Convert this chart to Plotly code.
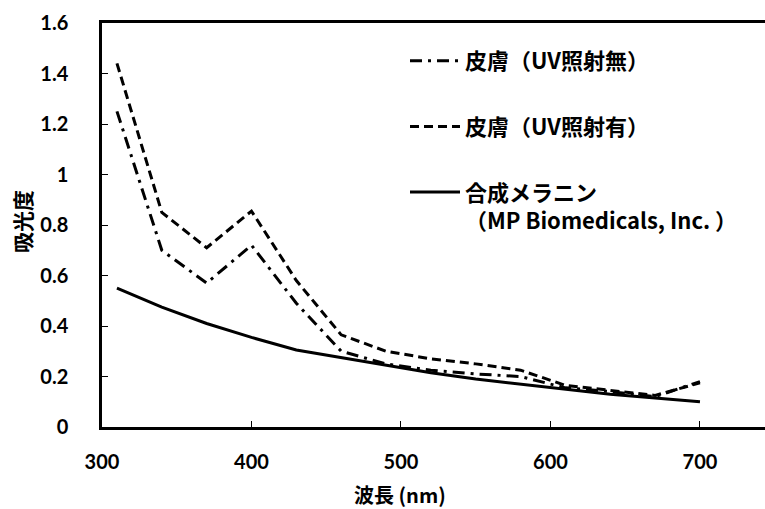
import plotly.graph_objects as go

wavelength = [310, 340, 370, 400, 430, 460, 490, 520, 550, 580, 610, 640, 670, 700]
skin_no_uv = [1.25, 0.70, 0.57, 0.72, 0.49, 0.30, 0.25, 0.225, 0.21, 0.20, 0.155, 0.14, 0.12, 0.18]
skin_uv = [1.44, 0.85, 0.71, 0.855, 0.58, 0.365, 0.30, 0.27, 0.25, 0.225, 0.165, 0.145, 0.125, 0.175]
melanin = [0.55, 0.475, 0.41, 0.355, 0.305, 0.275, 0.245, 0.215, 0.19, 0.17, 0.15, 0.13, 0.115, 0.10]

names = ["皮膚（UV照射無）", "皮膚（UV照射有）", "合成メラニン<br>（MP Biomedicals, Inc. ）"]
x_ticks = [300, 400, 500, 600, 700]
y_ticks = [0, 0.2, 0.4, 0.6, 0.8, 1, 1.2, 1.4, 1.6]

FONT = "Lato, 'Noto Sans CJK JP', sans-serif"
CJK = "'Noto Sans CJK JP', Lato, sans-serif"

PW = 663.0  # plot width px
PH = 404.0  # plot height px

fig = go.Figure()
fig.add_trace(go.Scatter(x=wavelength, y=skin_no_uv, mode="lines", name=names[0], legendgroup="a",
                         line=dict(color="black", width=3, dash="12px,6px,3px,6px")))
fig.add_trace(go.Scatter(x=wavelength, y=skin_uv, mode="lines", name=names[1], legendgroup="b",
                         line=dict(color="black", width=3, dash="9px,5px")))
fig.add_trace(go.Scatter(x=wavelength, y=melanin, mode="lines", name=names[2], legendgroup="c",
                         line=dict(color="black", width=3)))

fig.update_layout(
    width=765, height=509,
    margin=dict(l=102, r=0, t=23, b=82),
    paper_bgcolor="white", plot_bgcolor="white",
    font=dict(family=FONT, size=20, color="black", weight="bold"),
    showlegend=True,
    legend=dict(
        x=(405 - 102) / PW, y=1 - (40 - 23) / PH, xanchor="left", yanchor="top",
        font=dict(family=CJK, size=22, color="black", weight="bold"),
        traceorder="grouped", tracegroupgap=34, valign="top",
        itemwidth=50, bgcolor="rgba(0,0,0,0)",
    ),
    xaxis=dict(
        range=[300, 743.5], tickvals=x_ticks, ticks="inside", ticklen=6, tickwidth=1,
        tickcolor="black", showline=True, linecolor="black", linewidth=2.5, mirror=True,
        showgrid=False, zeroline=False, ticklabelstandoff=15,
        tickfont=dict(family=FONT, size=20, weight="bold"),
    ),
    yaxis=dict(
        range=[0, 1.6], tickvals=y_ticks, ticks="inside", ticklen=6, tickwidth=1,
        tickcolor="black", showline=True, linecolor="black", linewidth=2.5,
        showgrid=False, zeroline=False, ticklabelstandoff=27,
        tickfont=dict(family=FONT, size=20, weight="bold"),
    ),
    annotations=[
        dict(text="吸光度", xref="paper", yref="paper", x=(22 - 102) / PW, y=(427 - 222) / PH,
             xanchor="center", yanchor="middle", textangle=-90, showarrow=False,
             font=dict(family=CJK, size=21, weight="bold")),
        dict(text="波長 (nm)", xref="paper", yref="paper", x=(400 - 102) / PW, y=-(495 - 427) / PH,
             xanchor="center", yanchor="middle", showarrow=False,
             font=dict(family=CJK, size=20, weight="bold")),
    ],
)

fig.write_html("out.html")
